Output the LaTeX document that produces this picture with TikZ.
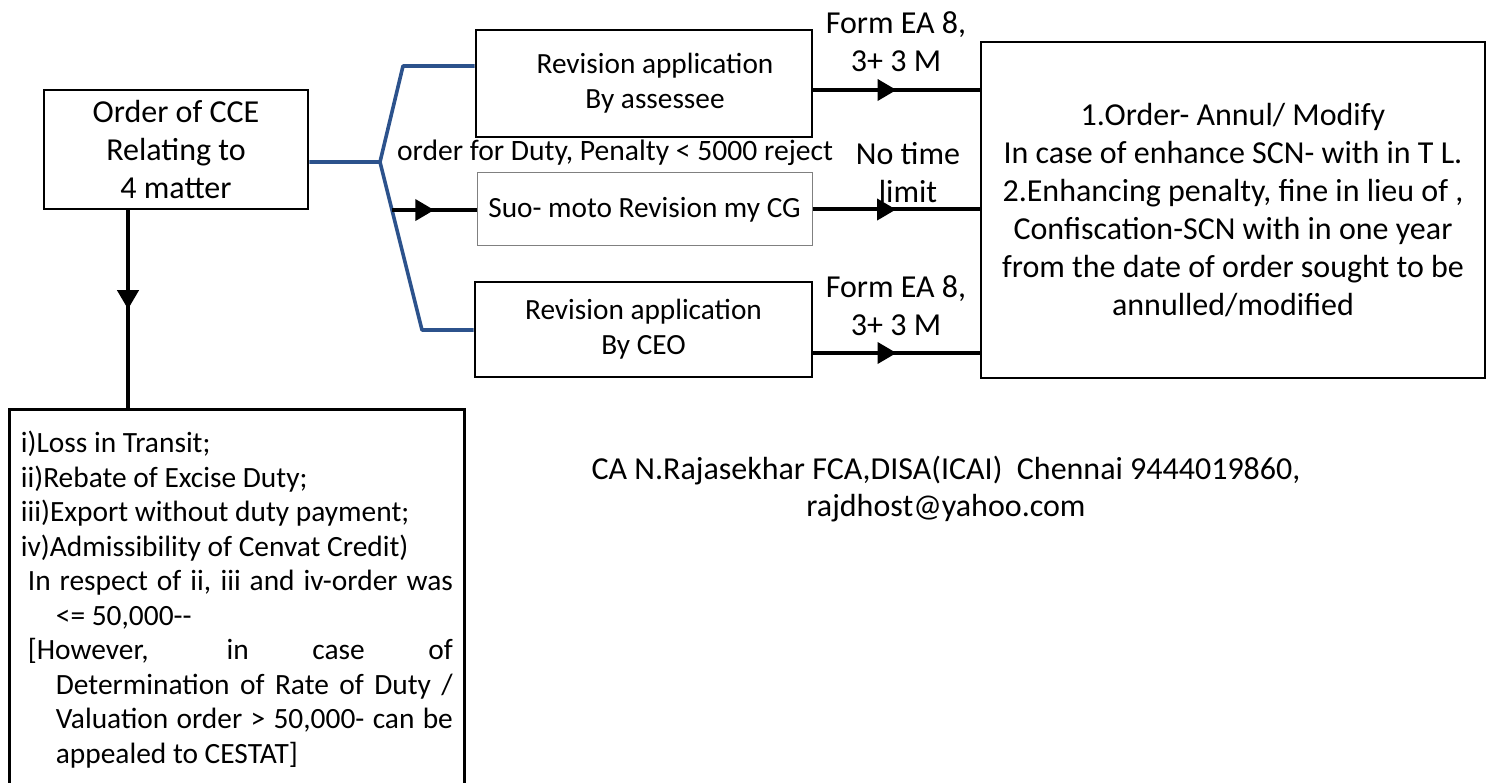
\documentclass[tikz,border=0pt]{standalone}
\usepackage{fontspec}
\setmainfont{Carlito}
\usetikzlibrary{arrows.meta,decorations.markings,calc}
\definecolor{linkblue}{RGB}{44,82,140}
\tikzset{
  box/.style={draw, line width=2.8pt, align=center, inner sep=0pt},
  bigfont/.style={font=\fontsize{32}{38}\selectfont},
  midfont/.style={font=\fontsize{29.3}{35}\selectfont},
  flow/.style={line width=4pt, postaction={decorate},
    decoration={markings, mark=at position 0.5 with {\arrow{Triangle[length=19pt,width=21pt]}}}},
  branch/.style={draw=linkblue, line width=3.6pt, line join=round},
}

\begin{document}
\begin{tikzpicture}[x=1pt,y=-1pt]
  \useasboundingbox (0,0) rectangle (1493,783);
  % boxes
  \node (order) [box, bigfont, minimum width=264pt, minimum height=119pt] at (176,149.5)
    {Order of CCE\\Relating to\\4 matter};
  \node (revA) [box, midfont, minimum width=336pt, minimum height=107pt] at (644,83.5)
    {\hspace*{22pt}Revision application\\\hspace*{22pt}By assessee};
  \node (suo) [box, midfont, draw=gray, line width=1pt, minimum width=335pt, minimum height=73pt] at (644.5,209.5)
    {Suo- moto Revision my CG};
  \node (revB) [box, midfont, minimum width=337pt, minimum height=95pt] at (643.5,329.5)
    {Revision application\\By CEO};
  \node (result) [box, bigfont, minimum width=504pt, minimum height=336pt] at (1233,210)
    {1.Order- Annul/ Modify\\In case of enhance SCN- with in T L.\\2.Enhancing penalty, fine in lieu of ,\\
     Confiscation-SCN with in one year\\from the date of order sought to be\\annulled/modified};
  \node (matters) [draw, line width=2.8pt, anchor=north west, text width=432pt, inner xsep=11.5pt,
    inner ysep=22pt, align=justify, font=\fontsize{29.4}{34.5}\selectfont] at (8,408)
    {\parindent=0pt
     i)Loss in Transit;\par
     ii)Rebate of Excise Duty;\par
     iii)Export without duty payment;\par
     iv)Admissibility of Cenvat Credit)\par
     {\leftskip=35pt\hskip-28pt In respect of ii, iii and iv-order was\linebreak\hspace*{0pt}<= 50,000-{}-\par}
     {\leftskip=35pt\hskip-28pt [However, in case of\linebreak Determination of Rate of Duty /\linebreak
     Valuation order > 50,000- can be\linebreak appealed to CESTAT]\par}};

  % labels
  \node (formA) [bigfont, align=center] at (896,42) {Form EA 8,\\3+ 3 M};
  \node (reject) [font=\fontsize{29.6}{35}\selectfont] at (615,153) {order for Duty, Penalty < 5000 reject};
  \node (notime) [bigfont, align=center] at (908,173) {No time\\limit};
  \node (formB) [bigfont, align=center] at (896,306) {Form EA 8,\\3+ 3 M};
  \node (author) [font=\fontsize{32}{37}\selectfont, align=center] at (946,489)
    {CA N.Rajasekhar FCA,DISA(ICAI)\ \ Chennai 9444019860,\\rajdhost@yahoo.com};

  % blue branches
  \coordinate (fork) at (380,162);
  \coordinate (aBend) at (403,66);
  \coordinate (bBend) at (422,330);
  \draw[branch] (order.east |- fork) -- (fork) -- (aBend) -- (aBend -| revA.west);
  \draw[branch] (fork) -- (bBend) -- (bBend -| revB.west);
  \path (fork) -- (bBend) coordinate[pos=0.286] (tap);

  % arrows
  \draw[flow] (tap) -- (tap -| suo.west);
  \coordinate (aOut) at ([yshift=-6.5pt]revA.east);
  \draw[flow] (aOut) -- (aOut -| result.west);
  \draw[flow] (suo.east) -- (suo.east -| result.west);
  \coordinate (bOut) at ([yshift=-23.5pt]revB.east);
  \draw[flow] (bOut) -- (bOut -| result.west);
  \coordinate (dTop) at ([xshift=-48pt]order.south);
  \draw[flow] (dTop) -- (dTop |- matters.north);
\end{tikzpicture}
\end{document}
